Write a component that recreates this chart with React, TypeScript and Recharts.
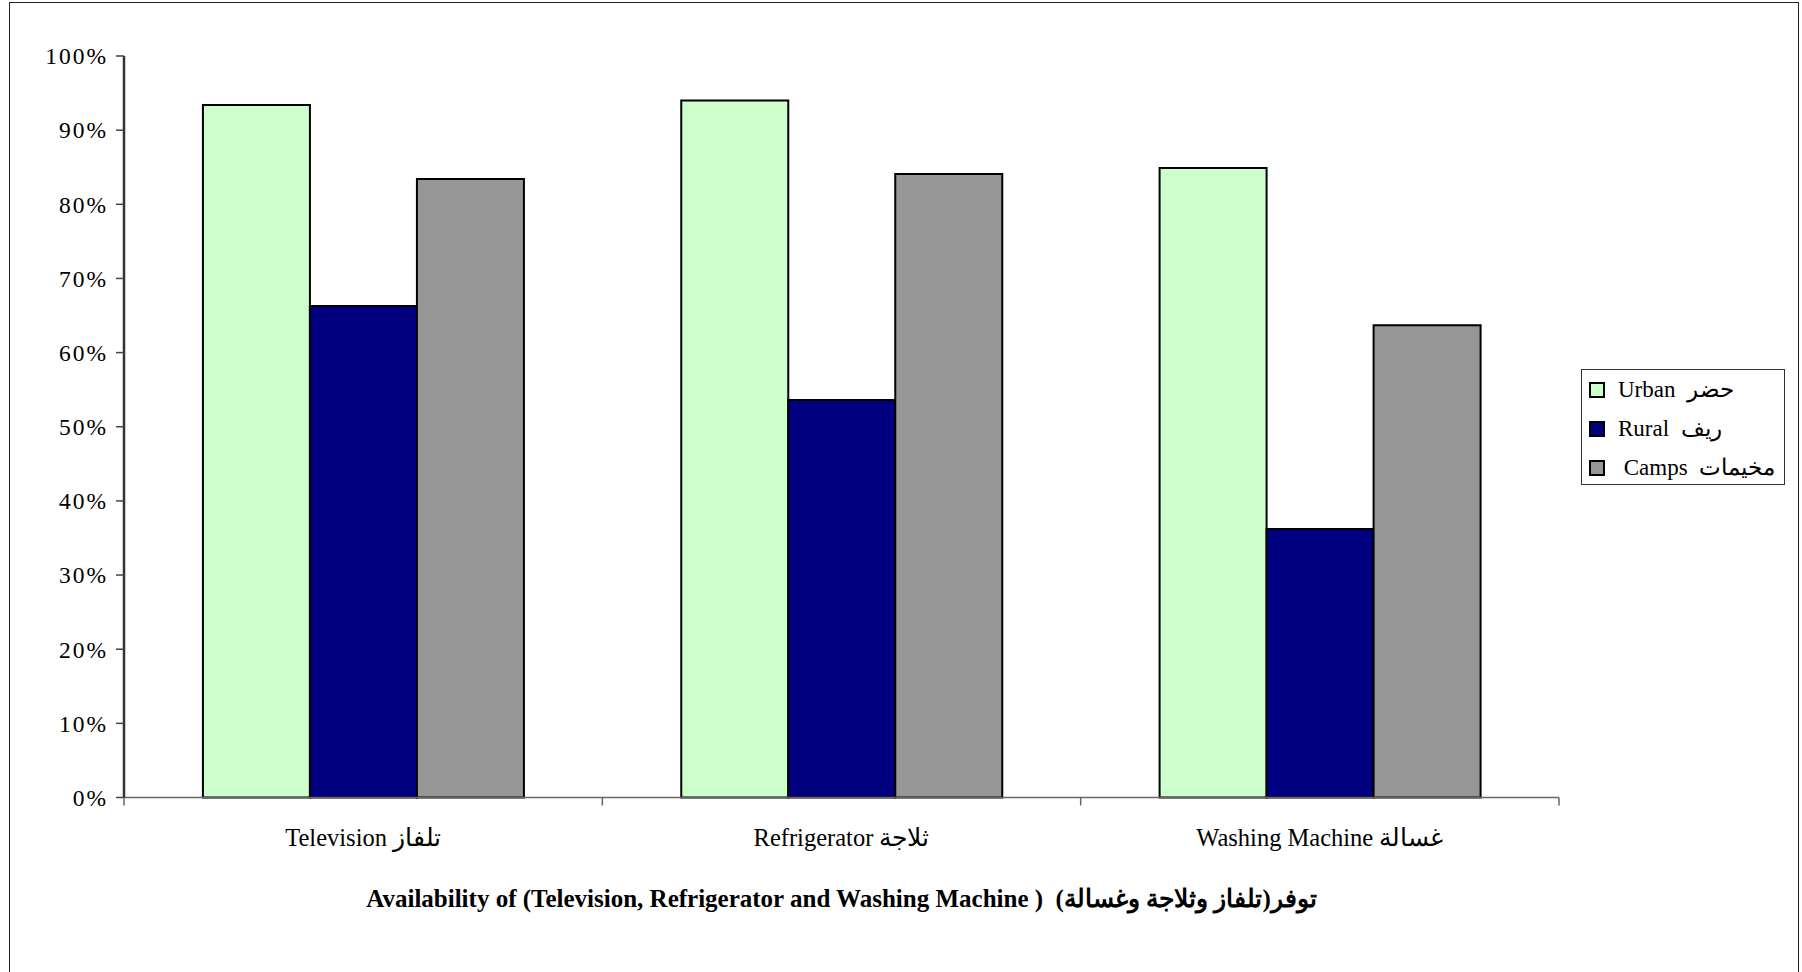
import React from 'react';
import { BarChart, Bar, XAxis, YAxis, Legend } from 'recharts';

const categories = ['Television  تلفاز', 'Refrigerator  ثلاجة', 'Washing Machine  غسالة'];
const urban = [93.4, 94.0, 84.9];
const rural = [66.3, 53.6, 36.2];
const camps = [83.4, 84.1, 63.7];
const yTicks = [0, 10, 20, 30, 40, 50, 60, 70, 80, 90, 100];
const seriesOrder = ['urban', 'rural', 'camps'];

const data = categories.map((name, i) => ({
  name,
  urban: urban[i],
  rural: rural[i],
  camps: camps[i],
}));

const W = 1802;
const H = 972;
const PLOT_LEFT = 124;
const PLOT_RIGHT = 1559;
const PLOT_W = PLOT_RIGHT - PLOT_LEFT;
const serif = '"Liberation Serif", "Times New Roman", serif';

const XTick = (props: any) => {
  const { x, y, payload, index } = props;
  const half = PLOT_W / categories.length / 2;
  return (
    <g>
      <line x1={x - half} x2={x - half} y1={y} y2={y + 8} stroke="#666" strokeWidth={1.5} />
      {index === categories.length - 1 && (
        <line x1={x + half} x2={x + half} y1={y} y2={y + 8} stroke="#666" strokeWidth={1.5} />
      )}
      <text
        x={x}
        y={y + 40}
        textAnchor="middle"
        dominantBaseline="central"
        fill="#000"
        style={{ fontFamily: serif, fontSize: 24.5 }}
      >
        {payload.value}
      </text>
    </g>
  );
};

const LegendBox = (props: any) => {
  const items = [...(props.payload || [])].sort(
    (a: any, b: any) => seriesOrder.indexOf(a.dataKey) - seriesOrder.indexOf(b.dataKey)
  );
  return (
    <div
      style={{
        border: '1.5px solid #333',
        background: '#fff',
        width: 204,
        height: 116,
        boxSizing: 'border-box',
        paddingTop: 0,
        paddingLeft: 7,
      }}
    >
      {items.map((entry: any) => (
        <div
          key={entry.value}
          style={{ display: 'flex', alignItems: 'center', height: 39, fontFamily: serif, fontSize: 23, color: '#000' }}
        >
          <span
            style={{
              display: 'inline-block',
              width: 12,
              height: 12,
              background: entry.color,
              border: '2px solid #000',
              marginRight: 13,
              flexShrink: 0,
            }}
          />
          <span style={{ whiteSpace: 'pre' }}>{entry.value}</span>
        </div>
      ))}
    </div>
  );
};

export default function App() {
  return (
    <div style={{ position: 'fixed', left: 0, top: 0, width: W, height: H, overflow: 'hidden', background: '#fff' }}>
      <div
        style={{
          position: 'absolute',
          left: 9,
          top: 2,
          width: 1790,
          height: 1100,
          border: '1.5px solid #222',
          boxSizing: 'border-box',
        }}
      />
      <div style={{ position: 'absolute', left: 0, top: 0 }}>
        <BarChart
          width={W}
          height={H}
          data={data}
          margin={{ top: 56, right: W - PLOT_RIGHT, left: PLOT_LEFT - 80, bottom: H - 797.5 - 60 }}
          barCategoryGap="16.5%"
          barGap={0}
        >
          <XAxis
            dataKey="name"
            height={60}
            tick={<XTick />}
            tickLine={false}
            tickSize={0}
            tickMargin={0}
            interval={0}
            axisLine={{ stroke: '#666', strokeWidth: 1.5 }}
          />
          <XAxis
            xAxisId="top"
            dataKey="name"
            orientation="top"
            height={0}
            tick={false}
            tickLine={false}
            axisLine={{ stroke: '#999', strokeWidth: 1.5 }}
          />
          <YAxis
            width={80}
            domain={[0, 100]}
            ticks={yTicks}
            interval={0}
            tickFormatter={(v: number) => `${v}%`}
            tickSize={8}
            tickMargin={8}
            tickLine={{ stroke: '#444', strokeWidth: 1.5 }}
            axisLine={{ stroke: '#333', strokeWidth: 2.5 }}
            tick={{ fill: '#000', fontFamily: serif, fontSize: 23.5, letterSpacing: 2 }}
          />
          <YAxis
            yAxisId="right"
            orientation="right"
            width={0}
            domain={[0, 100]}
            tick={false}
            tickLine={false}
            axisLine={{ stroke: '#999', strokeWidth: 1.5 }}
          />
          <Legend
            layout="horizontal"
            verticalAlign="middle"
            align="center"
            content={<LegendBox />}
            wrapperStyle={{ left: 1581, top: 369, width: 204, height: 116 }}
          />
          <Bar dataKey="urban" name="Urban  حضر" fill="#CCFFCC" stroke="#000" strokeWidth={2} isAnimationActive={false} />
          <Bar dataKey="rural" name="Rural  ريف" fill="#000080" stroke="#000" strokeWidth={2} isAnimationActive={false} />
          <Bar dataKey="camps" name=" Camps  مخيمات" fill="#969696" stroke="#000" strokeWidth={2} isAnimationActive={false} />
        </BarChart>
      </div>
      <div
        style={{
          position: 'absolute',
          left: PLOT_LEFT,
          width: PLOT_W,
          top: 883,
          textAlign: 'center',
          fontFamily: serif,
          fontWeight: 'bold',
          fontSize: 25,
          lineHeight: '32px',
          color: '#000',
          whiteSpace: 'pre',
        }}
      >
        {'Availability of (Television, Refrigerator and Washing Machine )  توفر(تلفاز وثلاجة وغسالة)'}
      </div>
    </div>
  );
}
